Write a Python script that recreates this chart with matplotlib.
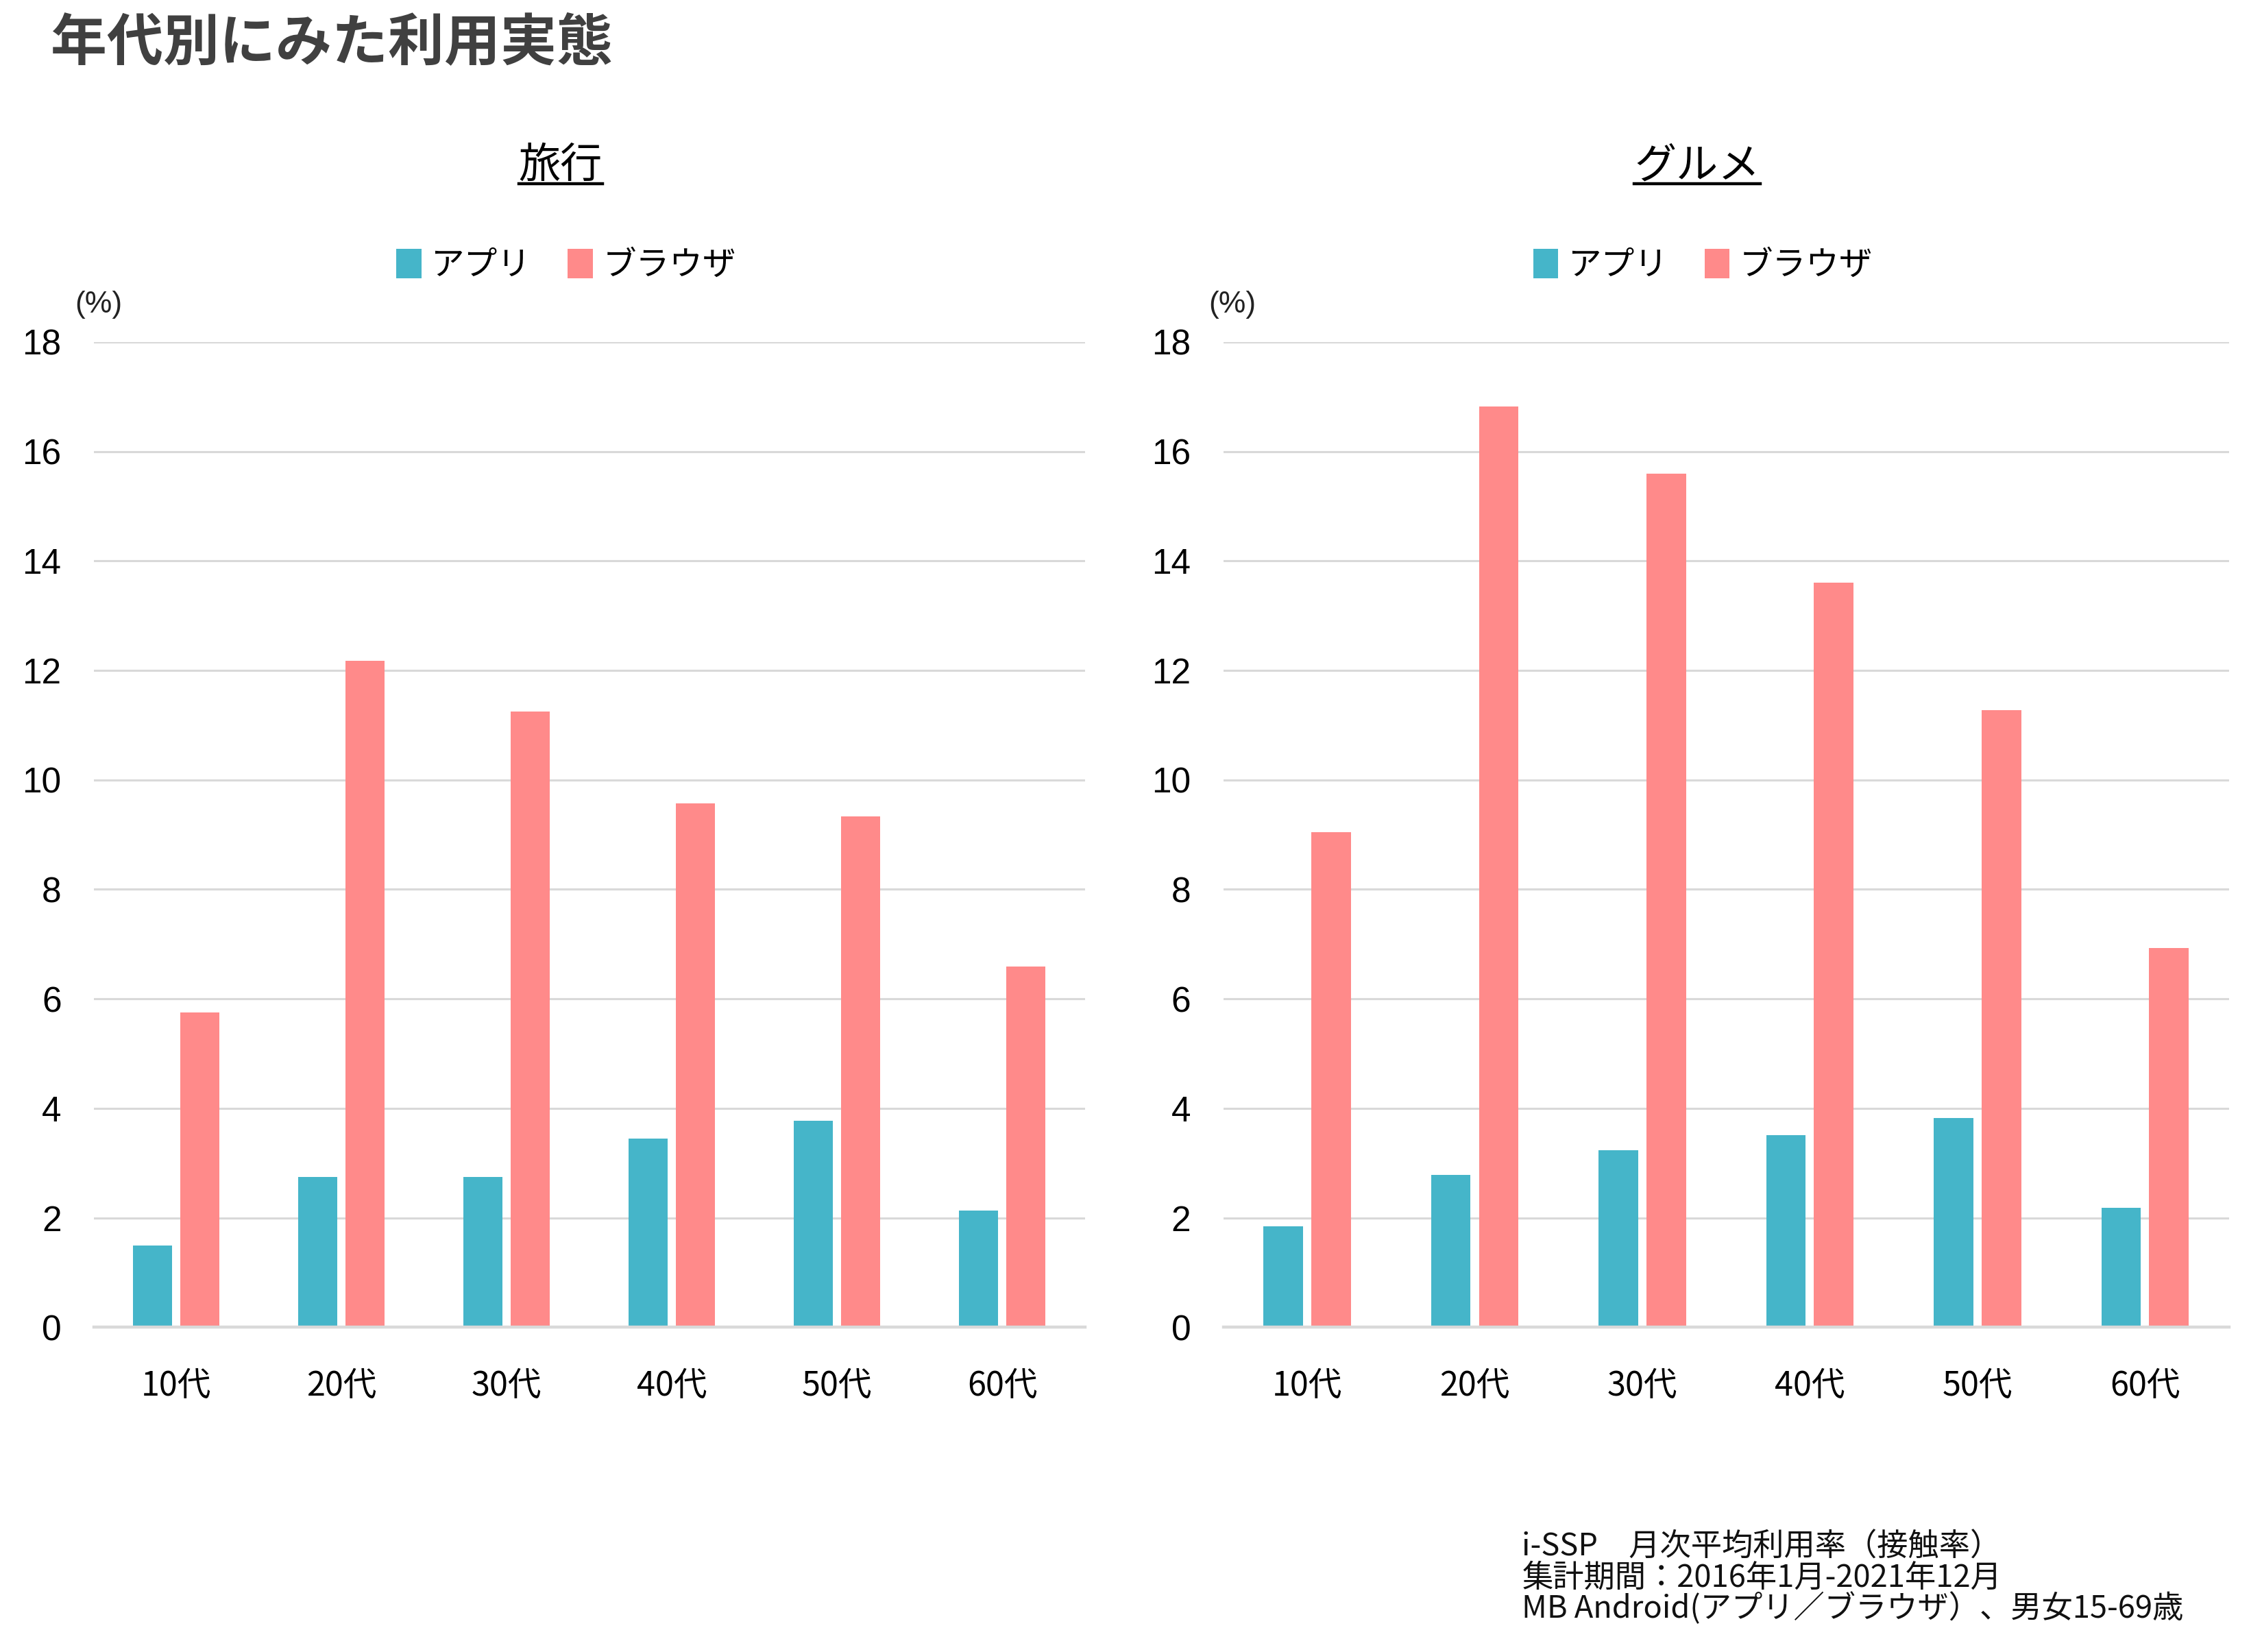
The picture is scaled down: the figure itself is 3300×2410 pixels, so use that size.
import numpy as np
import matplotlib
matplotlib.use('Agg')
import matplotlib.pyplot as plt
from matplotlib.lines import Line2D

plt.rcParams['font.family'] = ['Noto Sans CJK JP', 'DejaVu Sans']
plt.rcParams['axes.unicode_minus'] = False

# データ
ages = ['10代', '20代', '30代', '40代', '50代', '60代']
series = ['アプリ', 'ブラウザ']
travel_app = [1.50, 2.75, 2.75, 3.45, 3.77, 2.13]
travel_browser = [5.75, 12.18, 11.25, 9.57, 9.33, 6.59]
gourmet_app = [1.85, 2.78, 3.24, 3.51, 3.82, 2.19]
gourmet_browser = [9.04, 16.82, 15.60, 13.60, 11.28, 6.93]
yticks = [0, 2, 4, 6, 8, 10, 12, 14, 16, 18]

title = '年代別にみた利用実態'
panel_titles = ['旅行', 'グルメ']
note_lines = ['i-SSP\u3000月次平均利用率（接触率）',
              '集計期間：2016年1月-2021年12月',
              'MB Android(アプリ／ブラウザ）、男女15-69歳']

c_app = '#45B5C9'
c_browser = '#FF8A8A'
c_grid = '#D9D9D9'

W, H = 1568, 1145  # 参照画像の座標系


def fx(px):
    return px / W


def fy(py):
    return 1 - py / H


fig = plt.figure(figsize=(16.5, 12.05), dpi=200)

fig.text(fx(35), fy(30), title, fontsize=29.5, fontweight='bold', color='#404040',
         ha='left', va='center')


def draw_panel(x0, x1, app, browser, name, pct_x):
    ax = fig.add_axes([fx(x0), fy(920), fx(x1) - fx(x0), fy(237) - fy(920)])
    x = np.arange(len(ages))
    w = 0.236
    off = 0.143
    ax.bar(x - off, app, width=w, color=c_app, label=series[0], zorder=3)
    ax.bar(x + off, browser, width=w, color=c_browser, label=series[1], zorder=3)
    ax.set_xlim(-0.5, len(ages) - 0.5)
    ax.set_ylim(0, 18)
    ax.set_yticks(yticks)
    ax.set_yticklabels([str(v) for v in yticks], family=['Liberation Sans', 'DejaVu Sans'])
    ax.set_xticks(x)
    ax.set_xticklabels(ages)
    ax.tick_params(axis='y', length=0, labelsize=18.5, pad=17)
    ax.tick_params(axis='x', length=0, labelsize=17.5, pad=22)
    ax.grid(axis='y', color=c_grid, linewidth=1.1, zorder=0)
    for s in ['top', 'right', 'left']:
        ax.spines[s].set_visible(False)
    ax.spines['bottom'].set_color(c_grid)
    ax.spines['bottom'].set_linewidth(1.6)
    ax.spines['bottom'].set_zorder(4)

    cx = (x0 + x1) / 2
    t = fig.text(fx(cx - 20), fy(115), name, fontsize=22, ha='center', va='center', color='black')
    fig.legend(handles=ax.patches[:1] + ax.patches[len(ages):len(ages) + 1],
               labels=series, loc='center', bbox_to_anchor=(fx(cx - 16), fy(184)),
               ncol=2, frameon=False, fontsize=17.5, handlelength=0.75, handleheight=1.0,
               handletextpad=0.3, columnspacing=1.1)
    fig.text(fx(pct_x), fy(211), '(%)', fontsize=16, ha='left', va='center', color='#222222',
             family=['Liberation Sans', 'DejaVu Sans'])
    return t


titles = []
titles.append(draw_panel(65, 752, travel_app, travel_browser, panel_titles[0], 52))
titles.append(draw_panel(848, 1545, gourmet_app, gourmet_browser, panel_titles[1], 838))

for i, line in enumerate(note_lines):
    fig.text(fx(1055), fy(1072 + i * 21.5), line, fontsize=16.3, ha='left', va='center',
             color='#111111')

# パネルタイトルの下線
fig.canvas.draw()
r = fig.canvas.get_renderer()
for t in titles:
    bb = t.get_window_extent(renderer=r).transformed(fig.transFigure.inverted())
    y = bb.y0 + 0.002
    fig.add_artist(Line2D([bb.x0, bb.x1], [y, y], transform=fig.transFigure,
                          color='black', linewidth=1.6))

fig.savefig('out.png', dpi=200, facecolor='white')
